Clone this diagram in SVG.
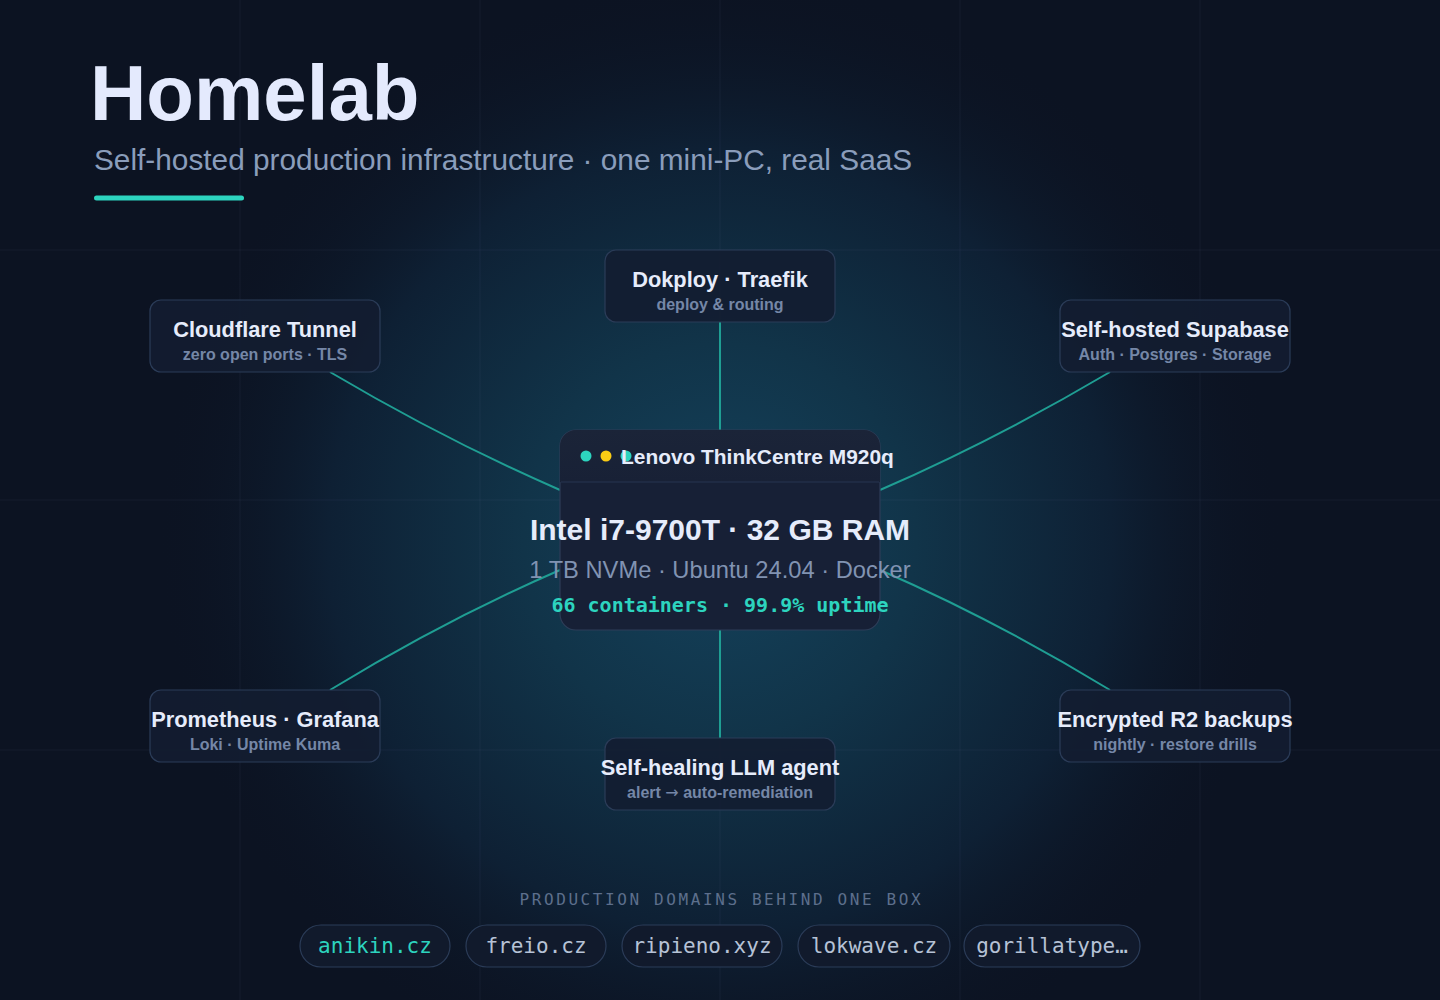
<svg xmlns="http://www.w3.org/2000/svg" width="1440" height="1000" viewBox="0 0 1440 1000">
  <defs>
    <radialGradient id="glow" cx="720" cy="540" r="560" gradientUnits="userSpaceOnUse">
      <stop offset="0" stop-color="#14425c"/>
      <stop offset="0.35" stop-color="#113449"/>
      <stop offset="0.7" stop-color="#0e2034"/>
      <stop offset="1" stop-color="#0c1424" stop-opacity="0"/>
    </radialGradient>
    <linearGradient id="hdr" x1="0" y1="0" x2="0" y2="1">
      <stop offset="0" stop-color="#1b2438"/>
      <stop offset="1" stop-color="#182136"/>
    </linearGradient>
    <style>
      .grid { stroke: #8aa0c0; stroke-opacity: 0.07; stroke-width: 1; }
      .node rect { fill: #131d31; fill-opacity: 0.9; stroke: #2b3c58; stroke-width: 1.2; }
      .t { font-family: "Liberation Sans", Arial, sans-serif; font-weight: 700; font-size: 21.8px; fill: #e6ecfb; text-anchor: middle; }
      .s { font-family: "Liberation Sans", Arial, sans-serif; font-weight: 700; font-size: 16px; fill: #7587a7; text-anchor: middle; }
      .arrow { font-family: "DejaVu Sans", sans-serif; font-weight: 400; }
      .conn path, .conn line { stroke: #1f9e93; stroke-width: 2; fill: none; }
      .chip rect { fill: #111a2c; stroke: #2b3c58; stroke-width: 1.2; }
      .chip text { font-family: "DejaVu Sans Mono", "Liberation Mono", monospace; font-size: 21px; fill: #b6c2d6; text-anchor: middle; }
    </style>
  </defs>

  <rect x="0" y="0" width="1440" height="1000" fill="#0c1322"/>
  <rect x="0" y="0" width="1440" height="1000" fill="url(#glow)"/>

  <g id="grid">
    <line class="grid" x1="0" y1="250" x2="1440" y2="250"/>
    <line class="grid" x1="0" y1="500" x2="1440" y2="500"/>
    <line class="grid" x1="0" y1="750" x2="1440" y2="750"/>
    <line class="grid" x1="240" y1="0" x2="240" y2="1000"/>
    <line class="grid" x1="480" y1="0" x2="480" y2="1000"/>
    <line class="grid" x1="720" y1="0" x2="720" y2="1000"/>
    <line class="grid" x1="960" y1="0" x2="960" y2="1000"/>
    <line class="grid" x1="1200" y1="0" x2="1200" y2="1000"/>
  </g>

  <g id="header">
    <text x="90" y="120" font-family="Liberation Sans, Arial, sans-serif" font-weight="700" font-size="78" fill="#e4eafd">Homelab</text>
    <text x="94" y="170" font-family="Liberation Sans, Arial, sans-serif" font-size="29.8" fill="#8a9dbb">Self-hosted production infrastructure · one mini-PC, real SaaS</text>
    <rect x="94" y="195.5" width="150" height="5" rx="2.5" fill="#2dd4bf"/>
  </g>

  <g id="connectors" class="conn">
    <path d="M330,372 Q445,440 560,490"/>
    <path d="M1110,372 Q995,440 880,490"/>
    <path d="M330,690 Q445,620 560,570"/>
    <path d="M1110,690 Q995,620 880,570"/>
    <line x1="720" y1="322" x2="720" y2="430"/>
    <line x1="720" y1="630" x2="720" y2="738"/>
  </g>

  <g id="node-cloudflare" class="node">
    <rect x="150" y="300" width="230" height="72" rx="11"/>
    <text class="t" x="265" y="337">Cloudflare Tunnel</text>
    <text class="s" x="265" y="360">zero open ports · TLS</text>
  </g>
  <g id="node-dokploy" class="node">
    <rect x="605" y="250" width="230" height="72" rx="11"/>
    <text class="t" x="720" y="287">Dokploy · Traefik</text>
    <text class="s" x="720" y="310">deploy &amp; routing</text>
  </g>
  <g id="node-supabase" class="node">
    <rect x="1060" y="300" width="230" height="72" rx="11"/>
    <text class="t" x="1175" y="337">Self-hosted Supabase</text>
    <text class="s" x="1175" y="360">Auth · Postgres · Storage</text>
  </g>
  <g id="node-prometheus" class="node">
    <rect x="150" y="690" width="230" height="72" rx="11"/>
    <text class="t" x="265" y="727">Prometheus · Grafana</text>
    <text class="s" x="265" y="750">Loki · Uptime Kuma</text>
  </g>
  <g id="node-agent" class="node">
    <rect x="605" y="738" width="230" height="72" rx="11"/>
    <text class="t" x="720" y="775">Self-healing LLM agent</text>
    <text class="s" x="720" y="798">alert <tspan class="arrow">→</tspan> auto-remediation</text>
  </g>
  <g id="node-backups" class="node">
    <rect x="1060" y="690" width="230" height="72" rx="11"/>
    <text class="t" x="1175" y="727">Encrypted R2 backups</text>
    <text class="s" x="1175" y="750">nightly · restore drills</text>
  </g>

  <g id="node-server">
    <rect x="560" y="430" width="320" height="200" rx="16" fill="#172036" stroke="#2e3d58" stroke-width="1.2"/>
    <path d="M576,430 H864 A16,16 0 0 1 880,446 V482 H560 V446 A16,16 0 0 1 576,430 Z" fill="url(#hdr)"/>
    <line x1="561" y1="482" x2="879" y2="482" stroke="#263450" stroke-width="1"/>
    <circle cx="586" cy="456" r="5.5" fill="#2dd4bf"/>
    <circle cx="606" cy="456" r="5.5" fill="#facc15"/>
    <circle cx="626" cy="456" r="5.5" fill="#2dd4bf"/>
    <text x="621" y="464" font-family="Liberation Sans, Arial, sans-serif" font-weight="700" font-size="20.9" fill="#e6ecfb">Lenovo ThinkCentre M920q</text>
    <text x="720" y="540" text-anchor="middle" font-family="Liberation Sans, Arial, sans-serif" font-weight="700" font-size="30" fill="#e6ecfb">Intel i7-9700T · 32 GB RAM</text>
    <text x="720" y="578" text-anchor="middle" font-family="Liberation Sans, Arial, sans-serif" font-size="23.7" fill="#8193b2">1 TB NVMe · Ubuntu 24.04 · Docker</text>
    <text x="720" y="612" text-anchor="middle" font-family="DejaVu Sans Mono, Liberation Mono, monospace" font-weight="700" font-size="20" fill="#2dd4bf">66 containers · 99.9% uptime</text>
  </g>

  <g id="domains">
    <text x="721.3" y="905" text-anchor="middle" font-family="DejaVu Sans Mono, Liberation Mono, monospace" font-size="16" letter-spacing="2.6" fill="#5d6f8c">PRODUCTION DOMAINS BEHIND ONE BOX</text>
    <g class="chip" id="chip-anikin">
      <rect x="300" y="925" width="150" height="42" rx="21"/>
      <text x="375" y="953" style="fill:#2dd4bf">anikin.cz</text>
    </g>
    <g class="chip" id="chip-freio">
      <rect x="466" y="925" width="140" height="42" rx="21"/>
      <text x="536" y="953">freio.cz</text>
    </g>
    <g class="chip" id="chip-ripieno">
      <rect x="622" y="925" width="160" height="42" rx="21"/>
      <text x="702" y="953">ripieno.xyz</text>
    </g>
    <g class="chip" id="chip-lokwave">
      <rect x="798" y="925" width="152" height="42" rx="21"/>
      <text x="874" y="953">lokwave.cz</text>
    </g>
    <g class="chip" id="chip-gorillatype">
      <rect x="964" y="925" width="176" height="42" rx="21"/>
      <text x="1052" y="953">gorillatype…</text>
    </g>
  </g>
</svg>
